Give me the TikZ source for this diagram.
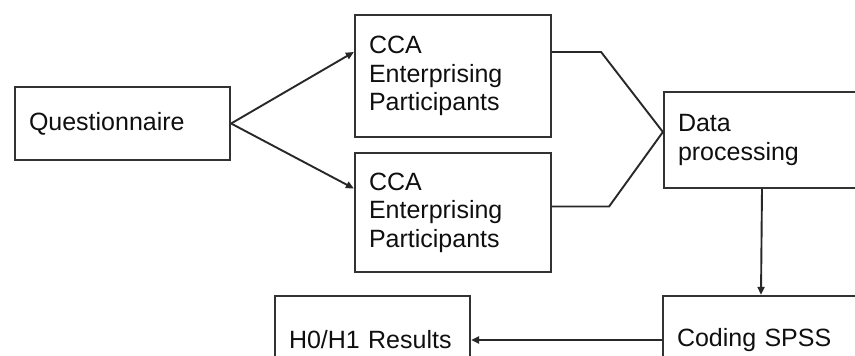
\documentclass[tikz,border=0pt]{standalone}
\usepackage{fontspec}
\setmainfont{Liberation Sans}
\usetikzlibrary{arrows.meta}
\definecolor{box_gray}{RGB}{50,50,50}
\definecolor{line_gray}{RGB}{40,40,40}
\definecolor{text_black}{RGB}{15,15,15}

\begin{document}
\begin{tikzpicture}[->,line width=1.9pt,>={Triangle[length=8pt,width=7pt]},x=1pt,y=-1pt]
    \tikzstyle{box}=[draw=box_gray, line width=2.2pt, rectangle, minimum width=196pt, inner xsep=14pt, inner ysep=2pt, align=left, text width=168pt, text=text_black, font=\fontsize{25}{28.5}\selectfont]

    \useasboundingbox (0,0) rectangle (855,356);
    \clip (0,0) rectangle (855,356);

    \node[box, minimum width=215pt, text width=187pt, minimum height=73pt] (q) at (122.5,123.5) {Questionnaire};
    \node[box, minimum height=122pt] (cca1) at (453,76)    {CCA\\Enterprising\\Participants};
    \node[box, minimum height=119pt] (cca2) at (453,212.5) {CCA\\Enterprising\\Participants};
    \node[box, minimum height=96pt]  (dp)   at (762,140)   {Data\\processing};
    \node[box, minimum height=88pt]  (spss) at (761,340)   {Coding SPSS};
    \node[box, minimum width=195pt, text width=167pt, minimum height=88pt] (res) at (372.5,340) {H0/H1 Results};

    \path
     (q.east) edge[line_gray] ([yshift=24]cca1.west)
     (q.east) edge[line_gray] ([yshift=24]cca2.west)
     (dp.south) edge[line_gray] (spss.north)
     (spss.west) edge[line_gray] (res.east)
     ;
    \draw[-,line_gray] ([yshift=24]cca1.east) -- ++(49,0) -- ([yshift=8]dp.west);
    \draw[-,line_gray] ([yshift=6]cca2.east) -- ++(57,0) -- ([yshift=8]dp.west);
\end{tikzpicture}
\end{document}
